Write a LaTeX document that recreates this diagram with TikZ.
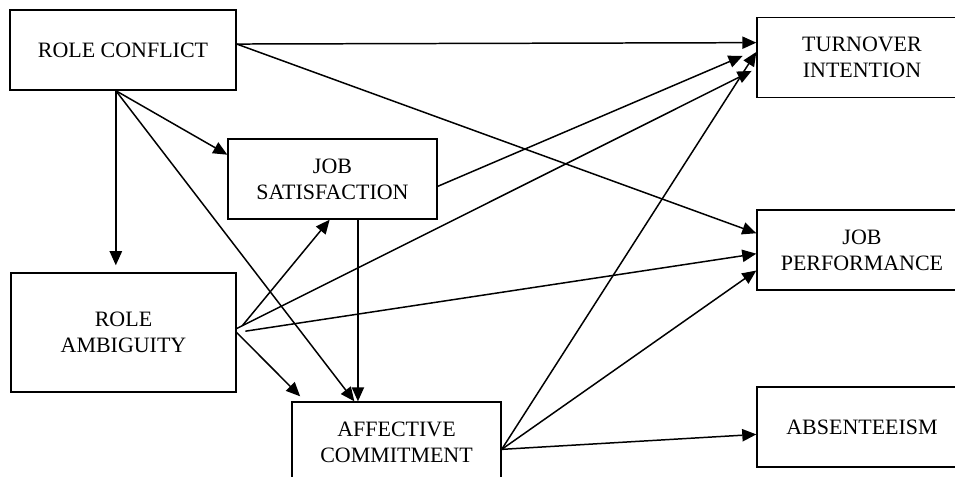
\documentclass[tikz,border=0pt]{standalone}
\usepackage{fontspec}
\setmainfont{Liberation Serif}
\usetikzlibrary{arrows.meta}

\begin{document}
\begin{tikzpicture}[x=0.02cm,y=-0.02cm,>={Triangle[length=8pt,width=7pt]},
    construct/.style={draw,line width=0.8pt,minimum height=1.6cm,align=center,
      font=\fontsize{12.5}{14.8}\selectfont},
    link/.style={->,line width=0.85pt}]
    \useasboundingbox (0,0) rectangle (955,476);
    \node[construct,minimum width=4.52cm] (conflict)     at (123,50)      {ROLE CONFLICT};
    \node[construct,minimum width=4.18cm] (satisfaction) at (332.5,179)   {JOB\\SATISFACTION};
    \node[construct,minimum width=4.5cm,minimum height=2.38cm]
                                          (ambiguity)    at (123.5,332.5) {ROLE\\AMBIGUITY};
    \node[construct,minimum width=4.18cm] (commitment)   at (396.5,442)   {AFFECTIVE\\COMMITMENT};
    \node[construct,minimum width=4.2cm]  (turnover)     at (862,57.5)    {TURNOVER\\INTENTION};
    \node[construct,minimum width=4.2cm]  (performance)  at (862,250)     {JOB\\PERFORMANCE};
    \node[construct,minimum width=4.2cm]  (absent)       at (862,427)     {ABSENTEEISM};
    \path[link]
    % role conflict edges
    (conflict.3.5)  edge (turnover.172)
    (conflict.3.5)  edge (performance.171)
    (conflict.-100) edge [shorten >=4pt] (conflict.-100 |- ambiguity.north)
    (conflict.-100) edge (satisfaction.167)
    (conflict.-100) edge (commitment.136)
    % job satisfaction edges
    (satisfaction.-58.5) edge (satisfaction.-58.5 |- commitment.north)
    (satisfaction.-4.4)  edge [shorten >=8.5pt] (turnover.176)
    % role ambiguity edges
    (ambiguity.2) edge [shorten >=3pt] (turnover.186.5)
    (ambiguity.0) edge [shorten <=5pt] (satisfaction.-94)
    (ambiguity.0) edge [shorten <=5pt] (performance.182)
    (ambiguity.0) edge [shorten >=4pt] (commitment.156)
    % affective commitment edges
    (commitment.-4.4) edge (turnover.177.5)
    (commitment.-4.4) edge (performance.191)
    (commitment.-4.4) edge (absent.184);
\end{tikzpicture}
\end{document}
